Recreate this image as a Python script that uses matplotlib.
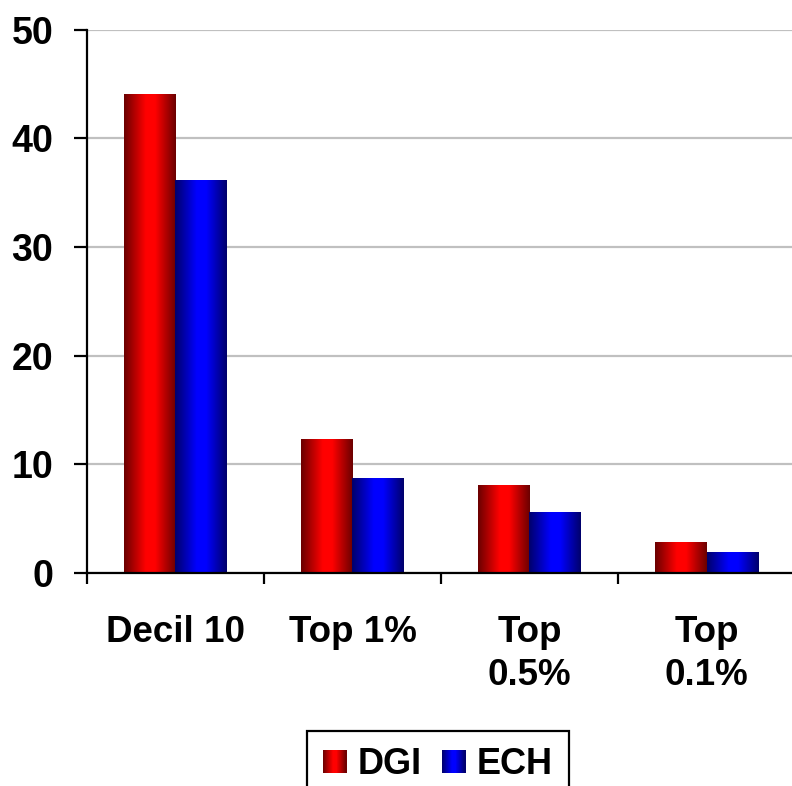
import numpy as np
import matplotlib
matplotlib.use("Agg")
import matplotlib.pyplot as plt
from matplotlib.colors import LinearSegmentedColormap
from matplotlib.legend_handler import HandlerBase
from matplotlib.patches import Rectangle

categories = ["Decil 10", "Top 1%", "Top\n0.5%", "Top\n0.1%"]
series_names = ["DGI", "ECH"]
dgi = [44.1, 12.3, 8.1, 2.85]
ech = [36.2, 8.7, 5.6, 1.95]
y_ticks = [0, 10, 20, 30, 40, 50]

plt.rcParams["font.family"] = ["Liberation Sans", "DejaVu Sans"]
plt.rcParams["font.weight"] = "bold"

red_cmap = LinearSegmentedColormap.from_list(
    "red_shade", [(0.0, "#6a0000"), (0.42, "#ff0000"), (0.6, "#ff0000"), (1.0, "#6a0000")])
blue_cmap = LinearSegmentedColormap.from_list(
    "blue_shade", [(0.0, "#00006a"), (0.42, "#0000ff"), (0.6, "#0000ff"), (1.0, "#00006a")])

fig = plt.figure(figsize=(7.92, 7.86), dpi=100)
ax = fig.add_axes([0.1098, 0.271, 0.894, 0.691])

x = np.arange(len(categories))
width = 0.29
grad = np.linspace(0, 1, 256).reshape(1, -1)


def shaded_bars(xpos, heights, cmap):
    bars = ax.bar(xpos, heights, width, color="none", edgecolor="none", zorder=2)
    for b in bars:
        x0, y0 = b.get_x(), b.get_y()
        w, h = b.get_width(), b.get_height()
        im = ax.imshow(grad, cmap=cmap, extent=[x0, x0 + w, y0, y0 + h],
                       aspect="auto", zorder=2, interpolation="bilinear")
        im.set_clip_path(b)
    return bars


b1 = shaded_bars(x - width / 2, dgi, red_cmap)
b2 = shaded_bars(x + width / 2, ech, blue_cmap)

ax.set_xlim(-0.5, len(categories) - 0.5)
ax.set_ylim(0, 50)
ax.set_aspect("auto")

# grid and spines
ax.set_yticks(y_ticks)
ax.yaxis.grid(True, color="#c0c0c0", linewidth=1.6, zorder=0)
ax.set_axisbelow(True)
for s in ("top", "right"):
    ax.spines[s].set_visible(False)
for s in ("left", "bottom"):
    ax.spines[s].set_linewidth(1.6)
    ax.spines[s].set_color("black")
    ax.spines[s].set_zorder(3)

ax.tick_params(axis="y", length=9.4, width=1.6, pad=15, labelsize=27)
ax.set_xticks(x)
ax.set_xticklabels(categories, fontsize=26.5, fontweight="bold", linespacing=1.3)
ax.tick_params(axis="x", which="major", length=0, pad=30)
ax.set_xticks(np.arange(-0.5, len(categories) - 0.5, 1.0), minor=True)
ax.tick_params(axis="x", which="minor", length=8, width=1.6)
for lab in ax.get_yticklabels():
    lab.set_fontweight("bold")


class ShadedSquare(HandlerBase):
    def __init__(self, cmap):
        super().__init__()
        self.cmap = cmap

    def create_artists(self, legend, orig_handle, xdescent, ydescent,
                       width, height, fontsize, trans):
        side = min(width, height)
        x0 = -xdescent + (width - side) / 2
        y0 = -ydescent + (height - side) / 2
        n = 24
        arts = []
        for i in range(n):
            c = self.cmap((i + 0.5) / n)
            r = Rectangle((x0 + side * i / n, y0), side / n + 0.3, side,
                          facecolor=c, edgecolor="none", transform=trans)
            arts.append(r)
        return arts


leg = fig.legend([b1, b2], series_names, loc="upper center",
                 bbox_to_anchor=(438 / 792, 1 - 731 / 786),
                 ncol=2, prop={"weight": "bold", "size": 26},
                 frameon=True, fancybox=False, edgecolor="black",
                 handlelength=0.64, handleheight=0.64, handletextpad=0.33,
                 columnspacing=0.55, borderpad=0.45, borderaxespad=0,
                 handler_map={b1: ShadedSquare(red_cmap), b2: ShadedSquare(blue_cmap)})
leg.get_frame().set_linewidth(1.6)
leg.get_frame().set_alpha(1)

fig.savefig("out.png", dpi=100)
